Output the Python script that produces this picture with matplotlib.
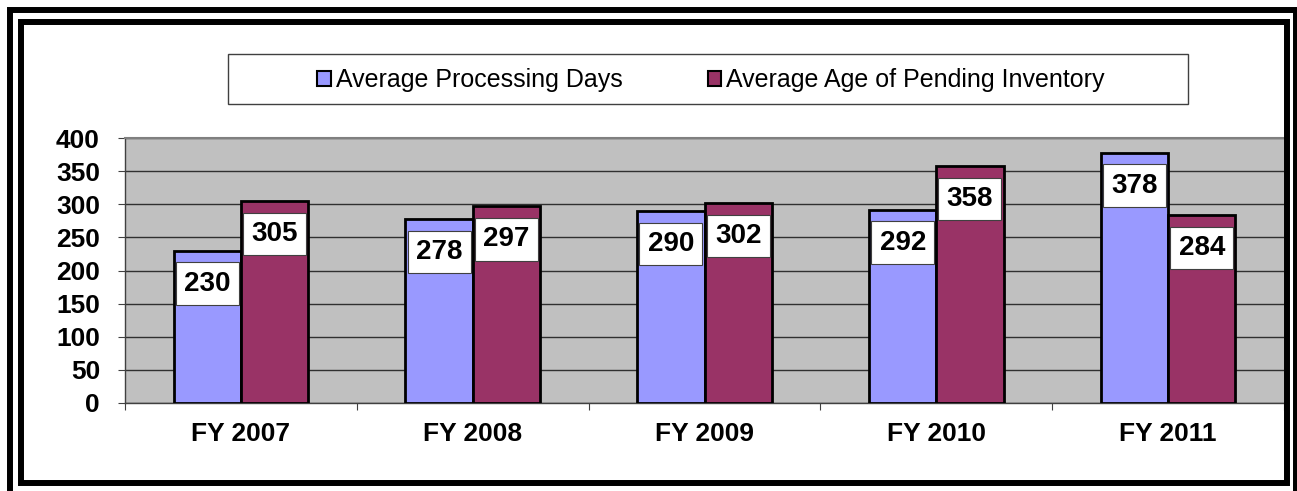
import matplotlib
matplotlib.use('Agg')
import matplotlib.pyplot as plt
from matplotlib.patches import Rectangle
import numpy as np

years = ['FY 2007', 'FY 2008', 'FY 2009', 'FY 2010', 'FY 2011']
processing_days = [230, 278, 290, 292, 378]
pending_age = [305, 297, 302, 358, 284]
series_names = ['Average Processing Days', 'Average Age of Pending Inventory']
colors = ['#9999FF', '#993366']

plt.rcParams['font.family'] = ['Liberation Sans', 'DejaVu Sans']

W, H = 1297, 491
fig = plt.figure(figsize=(W / 100, H / 100), dpi=100)
fig.patch.set_facecolor('white')

# plot area in pixel coordinates
left, right, top, bottom = 125, 1284, 138, 403
ax = fig.add_axes([left / W, 1 - bottom / H, (right - left) / W, (bottom - top) / H])
ax.set_facecolor('#C0C0C0')

x = np.arange(len(years))
bw = 0.29
bars1 = ax.bar(x - bw / 2, processing_days, bw, color=colors[0], edgecolor='black',
               linewidth=2, zorder=3, label=series_names[0])
bars2 = ax.bar(x + bw / 2, pending_age, bw, color=colors[1], edgecolor='black',
               linewidth=2, zorder=3, label=series_names[1])

# data labels in white boxes, a bit below the top of each bar
for bars, vals in ((bars1, processing_days), (bars2, pending_age)):
    for b, v in zip(bars, vals):
        ax.text(b.get_x() + b.get_width() / 2, v - 50, str(v), ha='center', va='center',
                fontsize=20, fontweight='bold', zorder=5,
                bbox=dict(boxstyle='square,pad=0.3', facecolor='white',
                          edgecolor='#404040', linewidth=0.8))

ax.set_ylim(0, 400)
ax.set_xlim(-0.5, len(years) - 0.5)
ax.set_yticks(np.arange(0, 401, 50))
ax.yaxis.grid(True, color='#303030', linewidth=1, zorder=0)
ax.set_axisbelow(True)
ax.tick_params(axis='y', length=5, width=0.8, pad=13, labelsize=19, color='#404040')
for lab in ax.get_yticklabels():
    lab.set_fontweight('bold')

ax.set_xticks(x)
ax.set_xticklabels(years, fontsize=19, fontweight='bold')
ax.tick_params(axis='x', which='major', length=0, pad=14)
ax.set_xticks(np.arange(-0.5, len(years)), minor=True)
ax.tick_params(axis='x', which='minor', length=5, width=0.8, color='#404040')

for s in ['left', 'bottom']:
    ax.spines[s].set_color('#404040')
    ax.spines[s].set_linewidth(1)
ax.spines['top'].set_color('#808080')
ax.spines['top'].set_linewidth(1.5)
ax.spines['right'].set_visible(False)

# legend frame and legend
fig.patches.append(Rectangle((228 / W, 1 - 104 / H), (1188 - 228) / W, 50 / H,
                             transform=fig.transFigure, facecolor='white',
                             edgecolor='#404040', linewidth=1, zorder=1))
fig.legend(handles=[bars1, bars2], labels=series_names, loc='center',
           bbox_to_anchor=(711 / W, 1 - 80 / H), ncol=2, frameon=False,
           fontsize=18, handlelength=0.55, handleheight=0.55,
           handletextpad=0.2, columnspacing=3.4)
for h in fig.legends[0].legend_handles:
    h.set_linewidth(1.5)

# double black frame around the chart
fig.patches.append(Rectangle((10 / W, -4 / H), 1286 / W, (481 + 4) / H,
                             transform=fig.transFigure, fill=False,
                             edgecolor='black', linewidth=4.3, zorder=10))
fig.patches.append(Rectangle((21 / W, 1 - 483 / H), 1266 / W, 461 / H,
                             transform=fig.transFigure, fill=False,
                             edgecolor='black', linewidth=4.3, zorder=10))

fig.savefig('out.png', dpi=100)
